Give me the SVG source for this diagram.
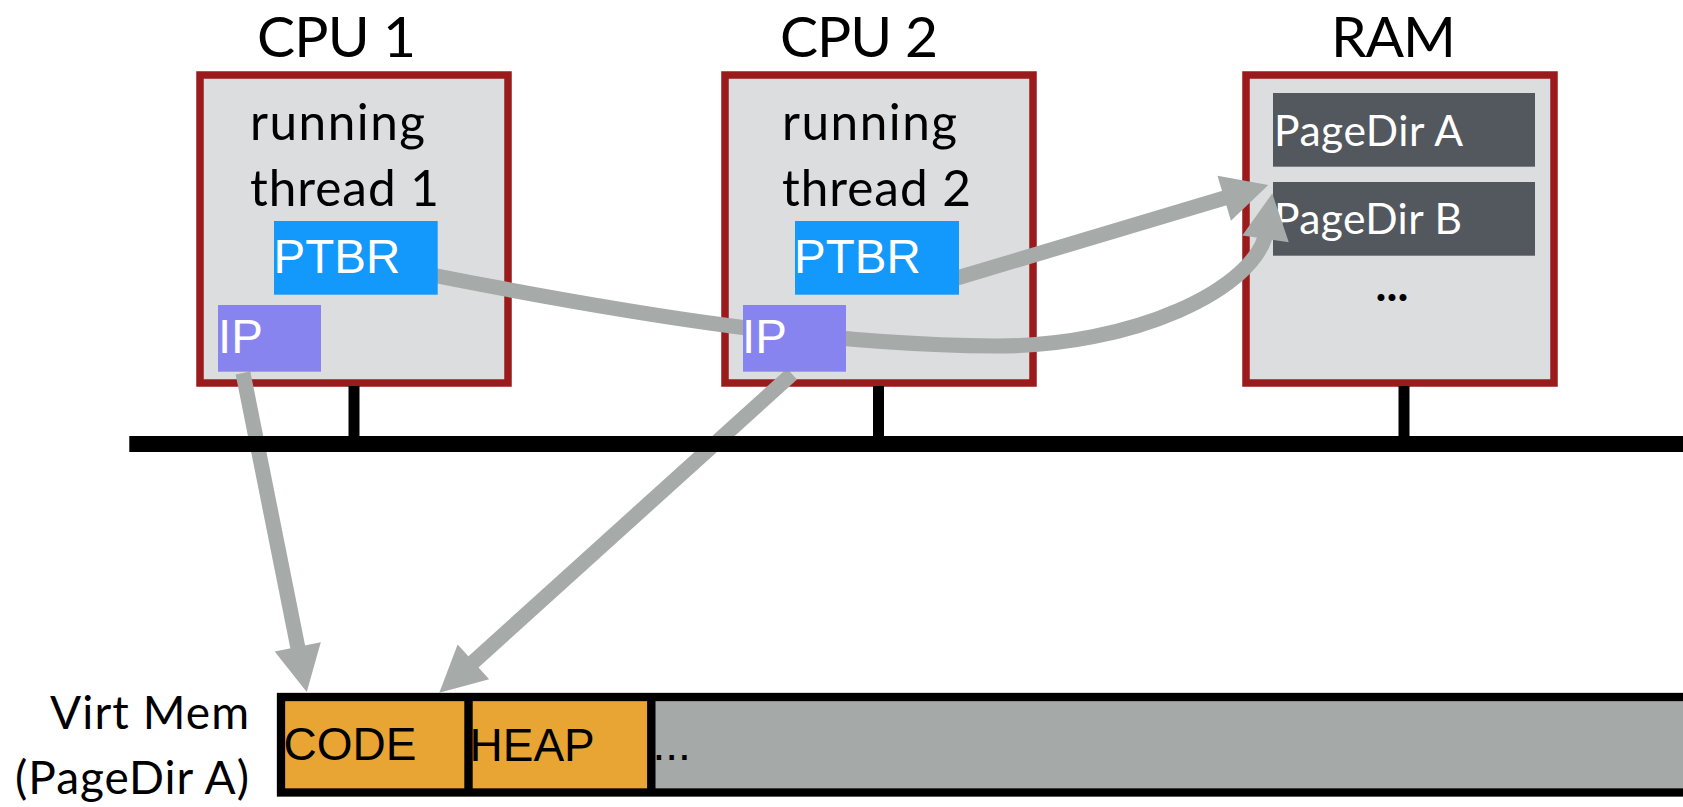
<svg xmlns="http://www.w3.org/2000/svg" width="1683" height="807" viewBox="0 0 1683 807">
  <style>
    .box { fill: #dcdddf; stroke: #9b1a1b; stroke-width: 7.5; }
    .title { font-family: Lato, "Open Sans", sans-serif; font-size: 57px; fill: #000; }
    .label { font-family: Lato, "Open Sans", sans-serif; font-size: 49.5px; fill: #000; }
    .pd { fill: #53575e; }
    .pdtext { font-family: Lato, "Open Sans", sans-serif; font-size: 42.6px; fill: #fff; }
    .reg { font-family: "Liberation Sans", Arial, sans-serif; font-size: 47.5px; fill: #fff; }
    .mem { font-family: "Liberation Sans", Arial, sans-serif; font-size: 46px; fill: #000; }
    .vm { font-family: Lato, "Open Sans", sans-serif; font-size: 46px; fill: #000; }
    .conn { fill: none; stroke: #a6aaa8; stroke-width: 15; marker-end: url(#head); }
    .bus { stroke: #000; }
  </style>
  <defs>
    <marker id="head" markerUnits="userSpaceOnUse" markerWidth="46" markerHeight="47" refX="10" refY="23.5" orient="auto" overflow="visible">
      <path d="M0,0 L46,23.5 L0,47 Z" fill="#a6aaa8"/>
    </marker>
  </defs>

  <g id="cpu1">
    <rect class="box" x="200" y="75" width="308" height="308"/>
    <text class="title" x="257" y="57" textLength="159">CPU 1</text>
    <text class="label" x="250" y="140" textLength="175">running</text>
    <text class="label" x="250" y="206" textLength="189">thread 1</text>
  </g>
  <g id="cpu2">
    <rect class="box" x="725" y="75" width="308" height="308"/>
    <text class="title" x="780" y="57" textLength="158">CPU 2</text>
    <text class="label" x="782" y="140" textLength="175">running</text>
    <text class="label" x="782" y="206" textLength="189">thread 2</text>
  </g>
  <g id="ram">
    <rect class="box" x="1246" y="75" width="308" height="308"/>
    <text class="title" x="1331" y="57" textLength="125">RAM</text>
    <g id="pagedir-a">
      <rect class="pd" x="1273" y="93" width="262" height="73.7"/>
      <text class="pdtext" x="1274" y="145.7" textLength="189">PageDir A</text>
    </g>
    <g id="pagedir-b">
      <rect class="pd" x="1273" y="182" width="262" height="73.7"/>
      <text class="pdtext" x="1274" y="234.3" textLength="188">PageDir B</text>
    </g>
    <text x="1392" y="300.5" text-anchor="middle" style="font-family: Lato, 'Open Sans', sans-serif; font-size: 46px; font-weight: bold; fill: #000">...</text>
  </g>

  <g id="virt-mem">
    <text class="vm" x="249" y="728.7" text-anchor="end" textLength="199">Virt Mem</text>
    <text class="vm" x="249" y="793.7" text-anchor="end" textLength="234">(PageDir A)</text>
    <rect x="281" y="697" width="1420" height="95.5" fill="#a5a9a7"/>
    <rect x="281" y="697" width="187.5" height="95.5" fill="#e8a534"/>
    <rect x="468.5" y="697" width="182.8" height="95.5" fill="#e8a534"/>
    <rect x="281" y="697" width="1420" height="95.5" fill="none" stroke="#000" stroke-width="8.3"/>
    <line x1="468.5" y1="697" x2="468.5" y2="792.5" stroke="#000" stroke-width="8.4"/>
    <line x1="651.3" y1="697" x2="651.3" y2="792.5" stroke="#000" stroke-width="8.4"/>
    <text class="mem" x="283.5" y="760.3">CODE</text>
    <text class="mem" x="469.5" y="761">HEAP</text>
    <text class="mem" x="652.5" y="760">...</text>
  </g>

  <g id="connectors">
    <path class="conn" d="M243,373 L299.7,656.7"/>
    <path class="conn" d="M792,374 L466,668.6"/>
    <path class="conn" d="M952,279.5 L1233.8,195.3"/>
    <path class="conn" d="M432,275 C650,318 830,345 995,346 C1130,347 1258,290 1267,229"/>
  </g>

  <g id="bus">
    <line class="bus" x1="129.3" y1="444" x2="1683" y2="444" stroke-width="16"/>
    <line class="bus" x1="354" y1="386" x2="354" y2="444" stroke-width="11"/>
    <line class="bus" x1="878.5" y1="386" x2="878.5" y2="444" stroke-width="11"/>
    <line class="bus" x1="1404" y1="386" x2="1404" y2="444" stroke-width="11"/>
  </g>

  <g id="ptbr1">
    <rect x="274" y="221" width="163.7" height="73.7" fill="#1399fc"/>
    <text class="reg" x="273.5" y="273.3">PTBR</text>
  </g>
  <g id="ip1">
    <rect x="218" y="305" width="103" height="66.7" fill="#8884ef"/>
    <text class="reg" x="218" y="352.7">IP</text>
  </g>
  <g id="ptbr2">
    <rect x="795" y="221" width="164" height="73.7" fill="#1399fc"/>
    <text class="reg" x="794" y="273.3">PTBR</text>
  </g>
  <g id="ip2">
    <rect x="743" y="305" width="103" height="66.7" fill="#8884ef"/>
    <text class="reg" x="742" y="352.7">IP</text>
  </g>
</svg>
